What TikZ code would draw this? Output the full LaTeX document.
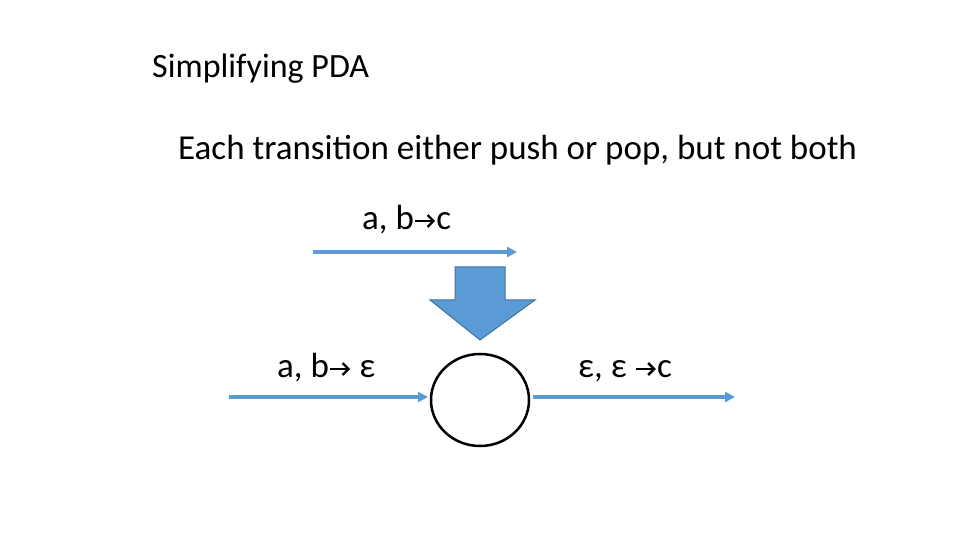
\documentclass[tikz,border=0pt]{standalone}
\usepackage{fontspec}
\usetikzlibrary{arrows.meta,shapes.geometric}
\setmainfont{Carlito}
\definecolor{ablue}{RGB}{91,155,213}
\definecolor{dblue}{RGB}{65,113,156}
\newcommand{\ar}{\tikz[baseline=0pt]{\draw[line width=2.4pt,-{Straight Barb[length=6pt,width=12pt]}] (0pt,9pt)--(20pt,9pt);}}
\begin{document}
\begin{tikzpicture}[x=1pt,y=1pt,
  lbl/.style={anchor=base west,inner sep=0pt,font=\fontsize{35}{40}\selectfont},
  flow/.style={draw=ablue,line width=3.5pt,-{Triangle[length=10pt,width=10pt]}}]
\useasboundingbox (0,0) rectangle (960,540);
\node[lbl,font=\fontsize{34}{38}\selectfont] (t) at (152,462) {Simplifying PDA};
\node[lbl] (s) at (178,380) {Each transition either push or pop, but not both};
\node[lbl] (l1) at (362,310) {a, b\ar c};
\node[lbl] (l2) at (277,162) {a, b\ar{} ε};
\node[lbl] (l3) at (578,162) {ε, ε \ar c};
\coordinate (a1) at (313,288); \coordinate (a2) at (517,288);
\draw[flow] (a1) -- (a2);
\node[draw=black,line width=2.5pt,ellipse,minimum width=98pt,minimum height=92pt,inner sep=0pt] (c) at (480,140) {};
\coordinate (b1) at (229,143); \coordinate (b2) at (428,143);
\draw[flow] (b1) -- (b2);
\coordinate (d1) at (533,143); \coordinate (d2) at (735,143);
\draw[flow] (d1) -- (d2);
\draw[fill=ablue,draw=dblue,line width=1pt] (455,273) -- (505,273) -- (505,240) -- (535,240) -- (480,200) -- (430,240) -- (455,240) -- cycle;
\end{tikzpicture}
\end{document}
